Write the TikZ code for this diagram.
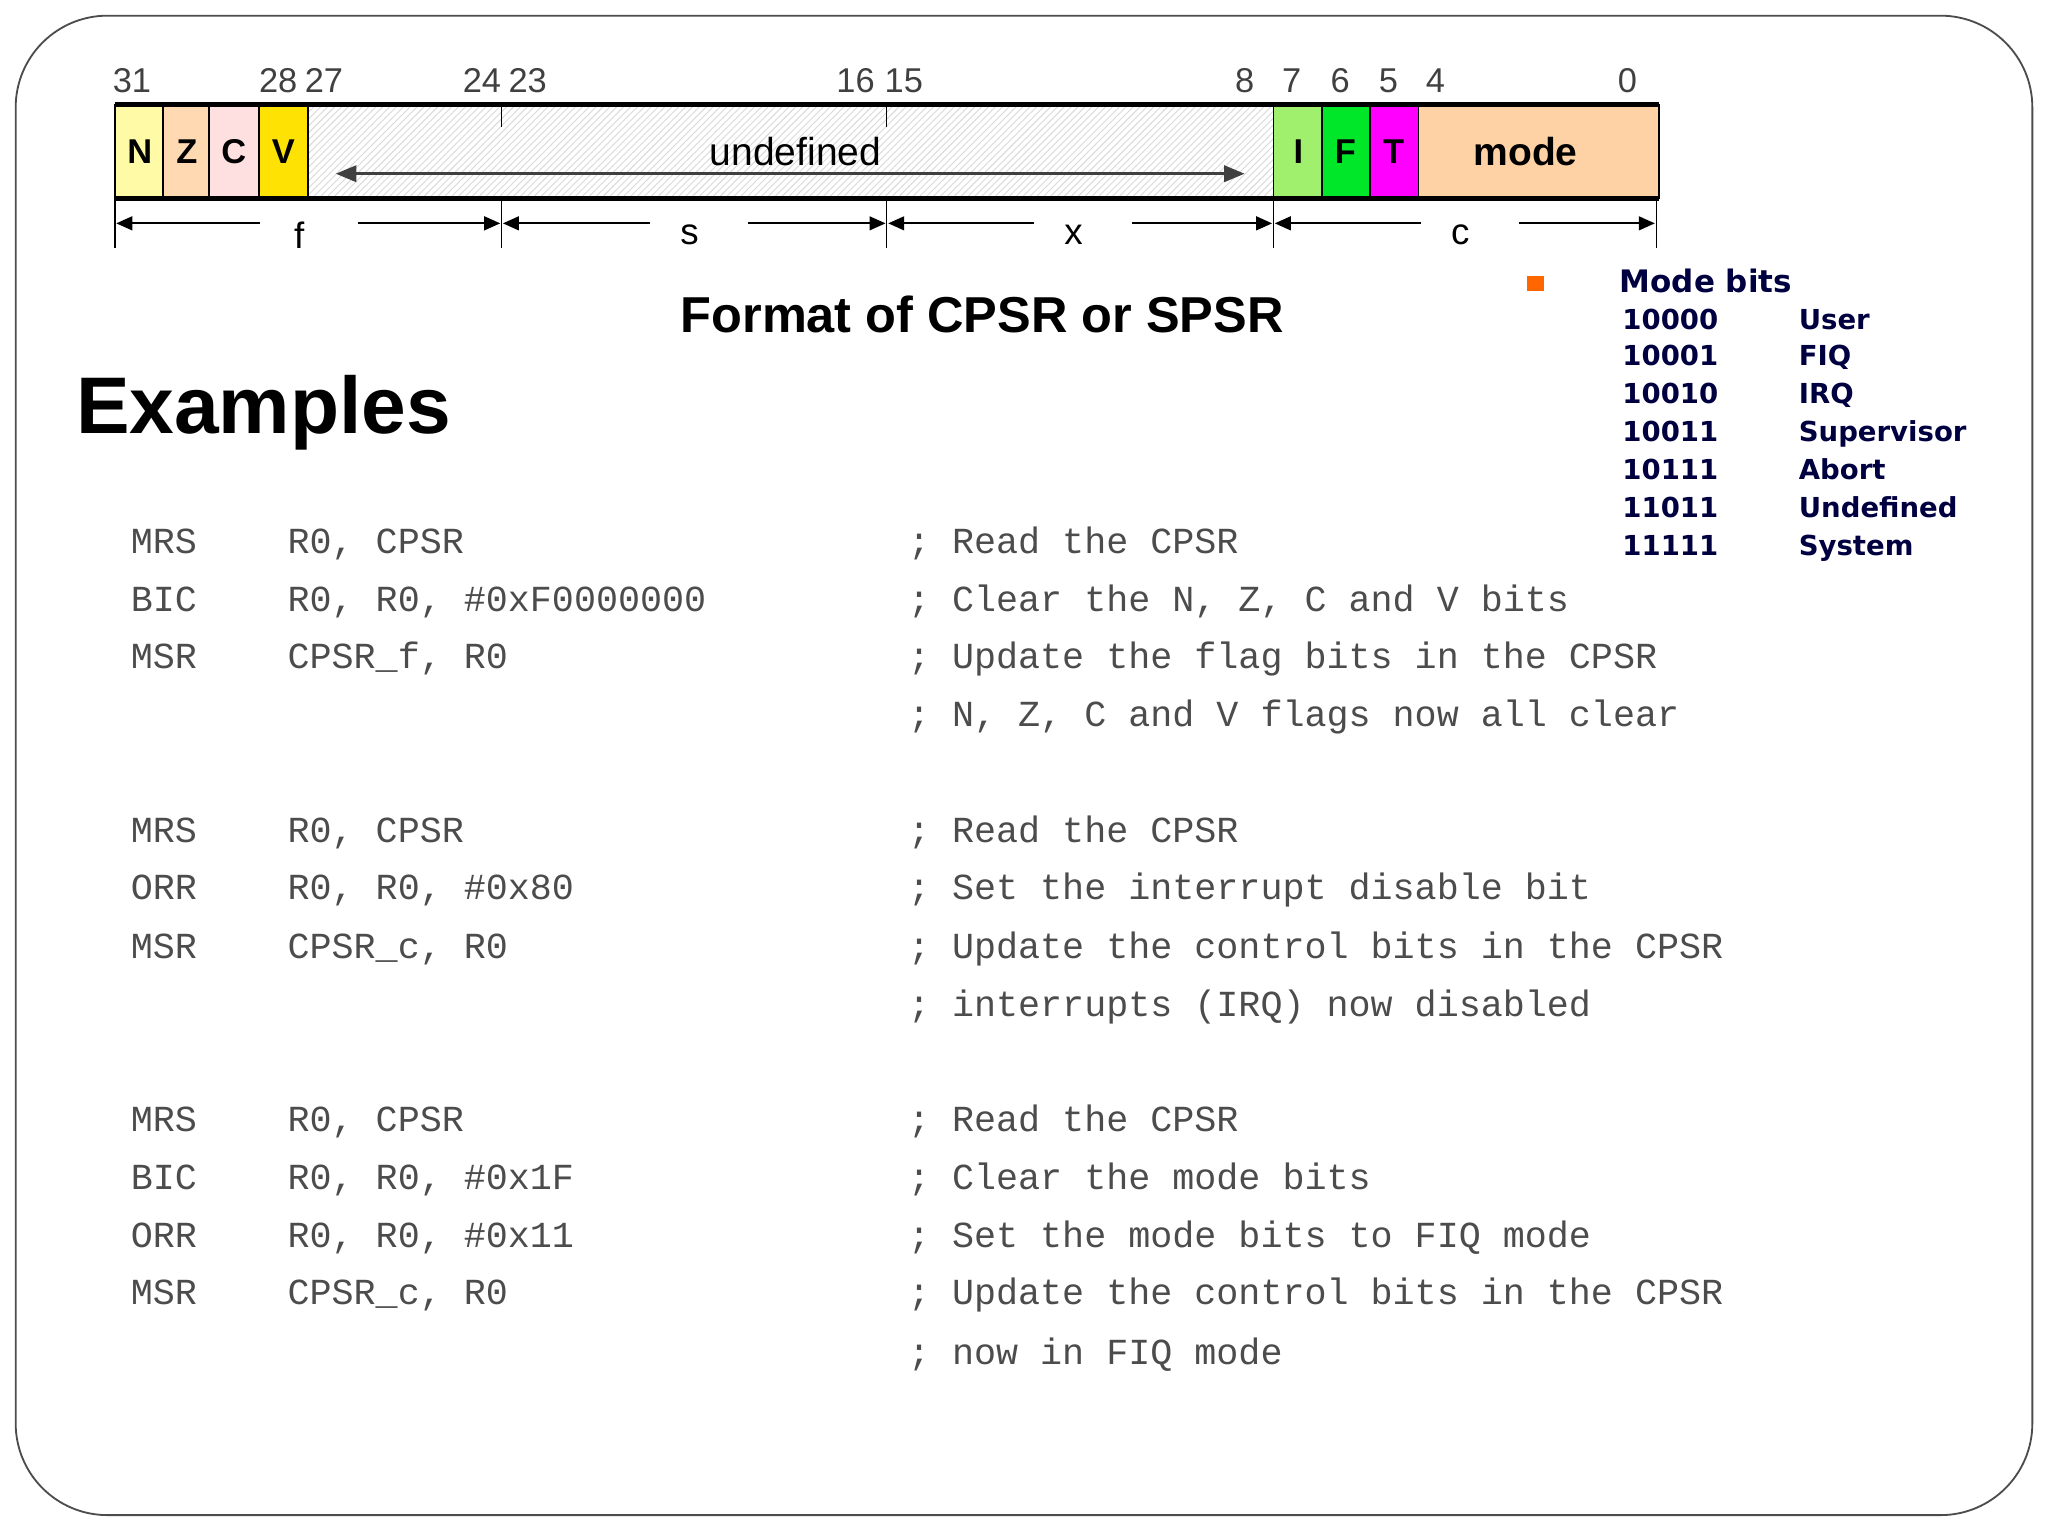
\documentclass[tikz,border=0pt]{standalone}
\usepackage{fontspec}
\setmainfont{Liberation Sans}
\newfontfamily\codefont{Liberation Mono}
\newfontfamily\legfont{DejaVu Sans}
\usetikzlibrary{patterns,arrows.meta}
\definecolor{tmag}{RGB}{255,0,255}
\definecolor{fgreen}{RGB}{0,230,40}
\definecolor{igreen}{RGB}{160,240,110}
\begin{document}
\begin{tikzpicture}[x=0.02cm,y=-0.02cm,
  cell/.style={draw=black,line width=0.8pt},
  bitlab/.style={font=\fontsize{15}{15}\selectfont,text=black!75},
  flab/.style={font=\bfseries\fontsize{15}{15}\selectfont},
  dimarr/.style={-{Triangle[length=7pt,width=6pt]},line width=0.9pt},
  code/.style={font=\codefont\fontsize{16}{16}\selectfont,text=black!70,anchor=base west},
  leg/.style={font=\legfont\bfseries\fontsize{12}{12}\selectfont,text=black!75!blue,anchor=base west}]
\useasboundingbox (0,0) rectangle (1568,1176);
\draw[black!70,line width=0.8pt,rounded corners=40pt] (12,12) rectangle (1556,1160);
% register cells
\fill[pattern=north east lines,pattern color=black!15] (236,80) rectangle (975,152);
\draw[cell,fill=yellow!35] (88,80) rectangle (125,152);
\draw[cell,fill=orange!30] (125,80) rectangle (160,152);
\draw[cell,fill=red!12] (160,80) rectangle (198,152);
\draw[cell,fill=yellow!85!orange] (198,80) rectangle (236,152);
\draw[cell,fill=igreen] (975,80) rectangle (1012,152);
\draw[cell,fill=fgreen] (1012,80) rectangle (1049,152);
\draw[cell,fill=tmag] (1049,80) rectangle (1086,152);
\draw[cell,fill=orange!35] (1086,80) rectangle (1270,152);
\draw[line width=2pt] (88,80) -- (1270,80) (88,152) -- (1270,152);
\draw[line width=0.8pt] (1270,80) -- (1270,152) (88,80)--(88,152);
\draw[line width=0.5pt] (384,80)--(384,97) (679,80)--(679,97);
\node[flab] at (107,116) {N};
\node[flab] at (143,116) {Z};
\node[flab] at (179,116) {C};
\node[flab] at (217,116) {V};
\node[flab] at (994,116) {I};
\node[flab] at (1030,116) {F};
\node[flab] at (1067,116) {T};
\node[flab,font=\bfseries\fontsize{17}{17}\selectfont] at (1168,116) {mode};
\node[font=\fontsize{17}{17}\selectfont] (und) at (609,116) {undefined};
\draw[{Triangle[length=9pt,width=7pt]}-{Triangle[length=9pt,width=7pt]},line width=1.5pt,black!75] (257,133) -- (953,133);
% bit numbers
\foreach \x/\t in {101/31,213/28,248/27,369/24,404/23,655/16,692/15,953/8,989/7,1026/6,1063/5,1099/4,1246/0}
  \node[bitlab] at (\x,62) {\t};
% field dimension lines
\foreach \x in {88,384,679,975,1268} \draw[line width=0.5pt] (\x,152) -- (\x,190);
\foreach \a/\b/\l/\m in {88/384/f/229,384/679/s/528,679/975/x/822,975/1268/c/1118}{
  \node[font=\fontsize{16}{16}\selectfont] at (\m,180) {\l};
  \draw[dimarr] (\m-30,171) -- (\a+1,171);
  \draw[dimarr] (\m+45,171) -- (\b-1,171);
}
\node[font=\bfseries\fontsize{22}{22}\selectfont] (title) at (752,241) {Format of CPSR or SPSR};
\node[font=\bfseries\fontsize{35}{35}\selectfont,anchor=west] (ex) at (52,316) {Examples};
% legend
\fill[orange!80!red] (1169,211) rectangle (1182,223);
\node[leg,font=\legfont\bfseries\fontsize{13.5}{13.5}\selectfont] at (1234,224) {Mode bits};
\foreach \y/\c/\n in {246/10000/User,274/10001/FIQ,303/10010/IRQ,332/10011/Supervisor,361/10111/Abort,390/11011/Undefined,419/11111/System}{
  \node[leg] at (1236,\y+6) {\c};
  \node[leg] at (1371,\y+6) {\n};
}
% code
\foreach \y/\a/\b/\c in {
 416/MRS/{R0, CPSR}/{; Read the CPSR},
 460/BIC/{R0, R0, \#0xF0000000}/{; Clear the N, Z, C and V bits},
 504/MSR/{CPSR\_f, R0}/{; Update the flag bits in the CPSR},
 548/{}/{}/{; N, Z, C and V flags now all clear},
 637/MRS/{R0, CPSR}/{; Read the CPSR},
 681/ORR/{R0, R0, \#0x80}/{; Set the interrupt disable bit},
 726/MSR/{CPSR\_c, R0}/{; Update the control bits in the CPSR},
 770/{}/{}/{; interrupts (IRQ) now disabled},
 858/MRS/{R0, CPSR}/{; Read the CPSR},
 903/BIC/{R0, R0, \#0x1F}/{; Clear the mode bits},
 947/ORR/{R0, R0, \#0x11}/{; Set the mode bits to FIQ mode},
 991/MSR/{CPSR\_c, R0}/{; Update the control bits in the CPSR},
 1037/{}/{}/{; now in FIQ mode}}{
  \node[code] at (94,\y+8) {\a};
  \node[code] at (214,\y+8) {\b};
  \node[code] at (689,\y+8) {\c};
}
\end{tikzpicture}
\end{document}
